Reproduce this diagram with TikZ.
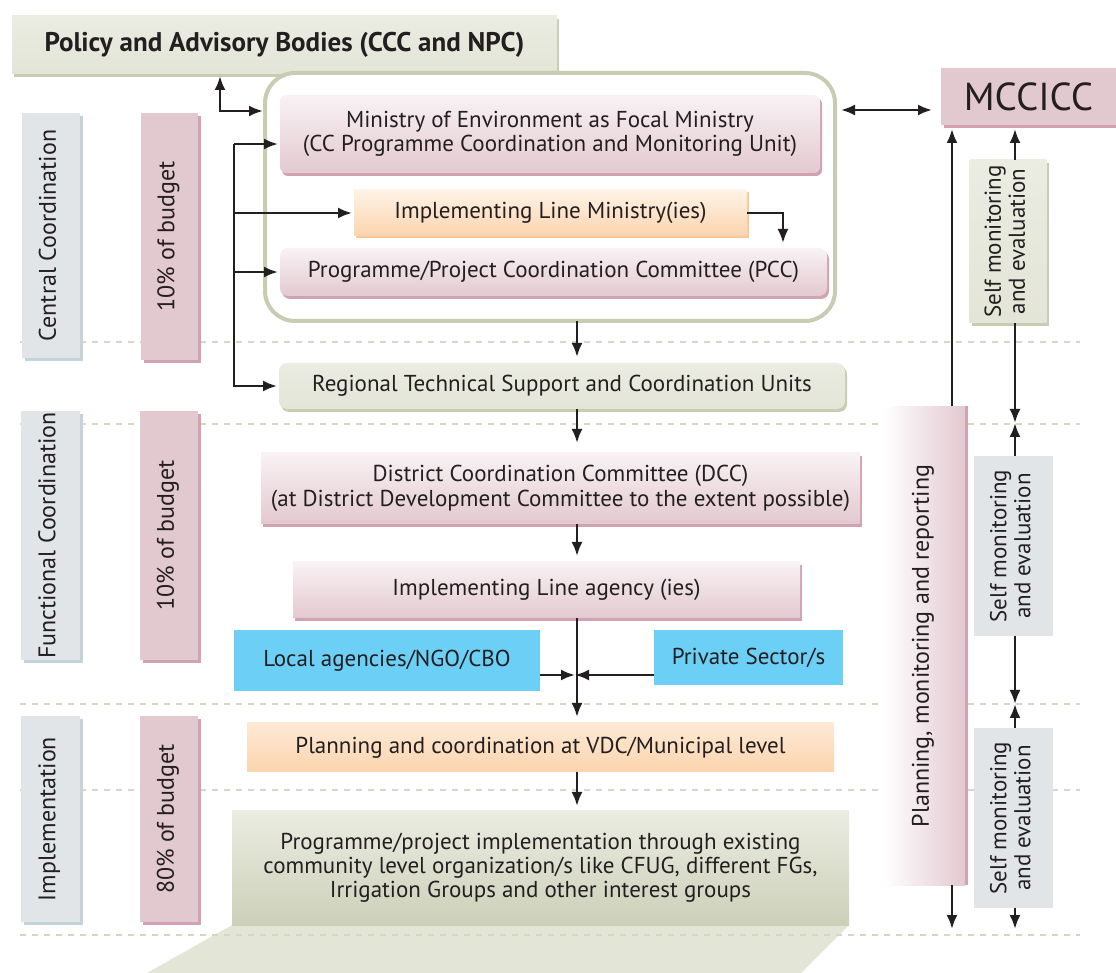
\documentclass[tikz,border=0pt]{standalone}
\usepackage{fontspec}
\usepackage{graphicx}
\setmainfont{PT Sans}
\usetikzlibrary{positioning, shadows, arrows.meta, backgrounds}
\definecolor{inkline}{RGB}{35,31,32}
\definecolor{pinkfill}{RGB}{226,201,208}
\definecolor{pinktop}{RGB}{249,242,244}
\definecolor{pinkline}{RGB}{208,162,178}
\definecolor{sagefill}{RGB}{227,229,215}
\definecolor{sagetop}{RGB}{235,236,226}
\definecolor{sagedark}{RGB}{204,208,184}
\definecolor{sageline}{RGB}{200,204,178}
\definecolor{greyfill}{RGB}{225,229,232}
\definecolor{greyline}{RGB}{196,210,218}
\definecolor{peachtop}{RGB}{254,243,230}
\definecolor{peachfill}{RGB}{252,212,174}
\definecolor{peachline}{RGB}{250,200,150}
\definecolor{cyanfill}{RGB}{108,207,246}
\definecolor{dashline}{RGB}{213,215,195}

\newcommand{\sidetext}[1]{\rotatebox{90}{\begin{tabular}{@{}c@{}}#1\end{tabular}}}

\begin{document}
\begin{tikzpicture}[
    x=0.5pt, y=-0.5pt,
    font=\fontsize{11.5}{12}\selectfont,
    box/.style={align=center, inner sep=0pt, outer sep=0pt, text=inkline},
    boxpink/.style={box, top color=pinktop, bottom color=pinkfill, general shadow={fill=pinkline, shadow xshift=1pt, shadow yshift=-1.5pt}},
    boxpeach/.style={box, top color=peachtop, bottom color=peachfill},
    boxsage/.style={box, top color=sagetop, bottom color=sagefill, general shadow={fill=sageline, shadow xshift=1pt, shadow yshift=-1.5pt}},
    boxcyan/.style={box, fill=cyanfill},
    sidebox/.style={box, fill=greyfill, font=\fontsize{12}{12}\selectfont, general shadow={fill=greyline, shadow xshift=1.5pt, shadow yshift=-1.5pt}},
    budgetbox/.style={box, fill=pinkfill, font=\fontsize{12}{12}\selectfont, general shadow={fill=pinkline, shadow xshift=1.5pt, shadow yshift=-1.5pt}},
    arr/.style={draw=inkline, line width=1.2pt, -{Latex[length=7pt, width=5.5pt]}, shorten >=1pt},
    dblarr/.style={arr, {Latex[length=7pt, width=5.5pt]}-{Latex[length=7pt, width=5.5pt]}},
    sep/.style={draw=dashline, line width=1.3pt, dash pattern=on 3pt off 3pt}
]
\useasboundingbox (0,0) rectangle (1116,973);

% ---------- Policy bodies ----------
\node[boxsage, minimum width=272.5pt, minimum height=29pt, font=\fontsize{13.5}{15}\selectfont\bfseries] (policy) at (284.5,45) {Policy and Advisory Bodies (CCC and NPC)};

% ---------- Central coordination block ----------
\node[draw=sageline, line width=2pt, rounded corners=15pt, fill=white, minimum width=285pt, minimum height=124pt, outer sep=0pt] (container) at (550,197) {};
\node[boxpink, rounded corners=3pt, minimum width=270pt, minimum height=39pt] (ministry) at (550,134) {Ministry of Environment as Focal Ministry\\(CC Programme Coordination and Monitoring Unit)};
\node[boxpeach, general shadow={fill=peachline, shadow xshift=1pt, shadow yshift=-1.2pt}, minimum width=196.5pt, minimum height=23pt] (ilm) at (550.5,213) {Implementing Line Ministry(ies)};
\node[boxpink, rounded corners=4pt, minimum width=273.5pt, minimum height=24pt] (pcc) at (553.5,272) {Programme/Project Coordination Committee (PCC)};

% ---------- Main column ----------
\node[boxsage, rounded corners=4pt, minimum width=283pt, minimum height=23pt, below=21pt of container, xshift=6pt] (regional) {Regional Technical Support and Coordination Units};
\node[boxpink, minimum width=299.5pt, minimum height=35.5pt, below=22pt of regional, xshift=-0.75pt, font=\fontsize{11.5}{12.5}\selectfont] (dcc) {District Coordination Committee (DCC)\\(at District Development Committee to the extent possible)};
\node[boxpink, minimum width=253.5pt, minimum height=28pt, below=19pt of dcc, xshift=-7pt] (ila) {Implementing Line agency (ies)};
\node[boxcyan, minimum width=153pt, minimum height=30.5pt] (local) at (387,660.5) {Local agencies/NGO/CBO};
\node[boxcyan, minimum width=94.5pt, minimum height=27.5pt] (private) at (748.5,657.5) {Private Sector/s};
\node[box, top color=peachtop!70!peachfill, bottom color=peachfill, minimum width=293.5pt, minimum height=24.5pt, below=52.5pt of ila, xshift=-3pt] (vdc) {Planning and coordination at VDC/Municipal level};
\node[box, top color=sagetop, bottom color=sagedark, minimum width=308.5pt, minimum height=57pt, below=19.5pt of vdc] (prog) {Programme/project implementation through existing\\community level organization/s like CFUG, different FGs,\\Irrigation Groups and other interest groups};

% ---------- Left labels ----------
\node[sidebox, minimum width=29pt, minimum height=122.5pt] (central) at (51,235.5) {\sidetext{Central Coordination}};
\node[sidebox, minimum width=29.5pt, minimum height=124.5pt] (functional) at (50.5,535.5) {\sidetext{Functional Coordination}};
\node[sidebox, minimum width=29.5pt, minimum height=103pt] (implement) at (50.5,819) {\sidetext{Implementation}};
\node[budgetbox, minimum width=28.5pt, minimum height=123.5pt] (budgetA) at (169.5,236.5) {\sidetext{10\% of budget}};
\node[budgetbox, minimum width=29pt, minimum height=124.5pt] (budgetB) at (169,535.5) {\sidetext{10\% of budget}};
\node[budgetbox, minimum width=29pt, minimum height=103pt] (budgetC) at (169,819) {\sidetext{80\% of budget}};

% ---------- Right column ----------
\node[budgetbox, minimum width=87.5pt, minimum height=28.5pt, font=\fontsize{19.5}{22}\selectfont] (mccicc) at (1028.5,96.5) {MCCICC};
\node[box, left color=white, right color=pinkfill, font=\fontsize{12}{12}\selectfont, general shadow={fill=pinkline, shadow xshift=1.5pt, shadow yshift=0pt}, minimum width=41pt, minimum height=239.5pt] (pmr) at (924,646) {\sidetext{Planning, monitoring and reporting}};
\node[boxsage, font=\fontsize{11.5}{12}\selectfont, minimum width=38.5pt, minimum height=81.5pt] (selfA) at (1008,241.5) {\sidetext{Self monitoring\\and evaluation}};
\node[box, fill=greyfill, minimum width=39.5pt, minimum height=90pt] (selfB) at (1013.5,546) {\sidetext{Self monitoring\\and evaluation}};
\node[box, fill=greyfill, minimum width=39.5pt, minimum height=90pt] (selfC) at (1013.5,818) {\sidetext{Self monitoring\\and evaluation}};

% ---------- Separators ----------
\begin{scope}[on background layer]
\fill[sagefill] (prog.south west) -- (prog.south east) -- (801,973) -- (147,973) -- cycle;
\draw[sep] (20,342) -- (1080,342);
\draw[sep] (20,424) -- (1080,424);
\draw[sep] (20,704) -- (1080,704);
\draw[sep] (20,790) -- (1080,790);
\draw[sep] (20,935) -- (1080,935);
\end{scope}

% ---------- Connectors ----------
\coordinate (pbend) at (220,111);
\draw[dblarr, shorten <=1pt] (pbend |- policy.south) -- (pbend) -- (pbend -| container.west);
\coordinate (bustop) at (234,144);
\draw[arr] (bustop) -- (bustop -| ministry.west);
\draw[arr] (bustop) |- (regional.west);
\draw[arr] (bustop |- ilm.west) -- (ilm.west);
\draw[arr] (bustop |- pcc.west) -- (pcc.west);
\coordinate (ilmdrop) at (783,0);
\draw[arr, shorten >=2.5pt] (ilm.east) -| (pcc.north -| ilmdrop);

\coordinate (spine) at (577,0);
\draw[arr, shorten >=3pt] (container.south -| spine) -- (regional.north -| spine);
\draw[arr, shorten >=5pt] (regional.south -| spine) -- (dcc.north -| spine);
\draw[arr, shorten >=3pt] (dcc.south -| spine) -- (ila.north -| spine);
\draw[arr, shorten >=3pt] (ila.south -| spine) -- (vdc.north -| spine);
\draw[arr, shorten >=2.5pt] (vdc.south -| spine) -- (prog.north -| spine);
\coordinate (join) at (577,675);
\draw[arr] (local.east |- join) -- (join);
\draw[arr, shorten >=-1pt] (private.west |- join) -- (join);

\coordinate (mlink) at (840,110);
\draw[dblarr, shorten <=3pt, shorten >=4.5pt] (container.east |- mlink) -- (mccicc.west |- mlink);
\coordinate (pmrx) at (952,0);
\coordinate (pmrend) at (952,931);
\draw[arr, shorten >=2pt] (pmr.north -| pmrx) -- (mccicc.south -| pmrx);
\draw[arr] (pmr.south -| pmrx) -- (pmrend);

\coordinate (selfx) at (1015,0);
\coordinate (cutA) at (1015,423);
\coordinate (cutB) at (1015,704);
\coordinate (selfend) at (1015,931);
\draw[arr, shorten >=2pt] (selfA.north -| selfx) -- (mccicc.south -| selfx);
\draw[arr, shorten >=0pt] (selfA.south -| selfx) -- (cutA);
\draw[arr, shorten >=0pt] (selfB.north -| selfx) -- (cutA);
\draw[arr, shorten >=0pt] (selfB.south -| selfx) -- (cutB);
\draw[arr, shorten >=0pt] (selfC.north -| selfx) -- (cutB);
\draw[arr] (selfC.south -| selfx) -- (selfend);

\end{tikzpicture}
\end{document}
